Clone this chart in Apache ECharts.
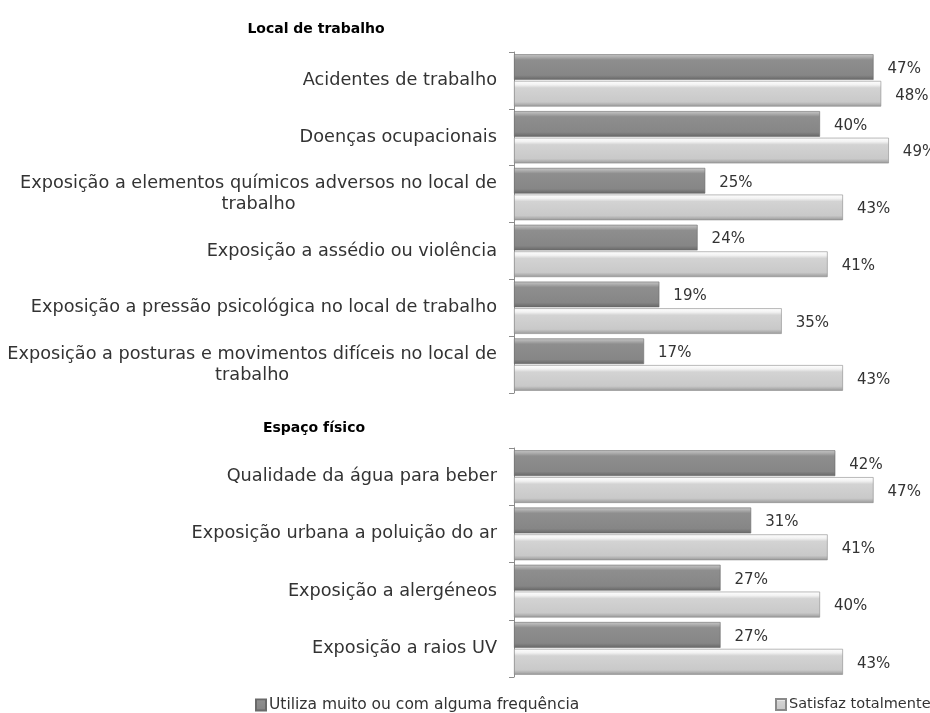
<!DOCTYPE html>
<html>
<head>
<meta charset="utf-8">
<script src="https://cdn.jsdelivr.net/npm/echarts@6/dist/echarts.min.js"></script>
<style>html,body{margin:0;padding:0;background:#fff}#c{width:930px;height:713px}</style>
</head>
<body>
<div id="c"></div>
<script>
const seriesNames = ['Utiliza muito ou com alguma frequência', 'Satisfaz totalmente'];
const sectionTitles = ['Local de trabalho', 'Espaço físico'];
const catsWork = [
  'Acidentes de trabalho',
  'Doenças ocupacionais',
  'Exposição a elementos químicos adversos no local de\ntrabalho',
  'Exposição a assédio ou violência',
  'Exposição a pressão psicológica no local de trabalho',
  'Exposição a posturas e movimentos difíceis no local de\ntrabalho'
];
const usoWork = [47, 40, 25, 24, 19, 17];
const satWork = [48, 49, 43, 41, 35, 43];
const catsSpace = [
  'Qualidade da água para beber',
  'Exposição urbana a poluição do ar',
  'Exposição a alergéneos',
  'Exposição a raios UV'
];
const usoSpace = [42, 31, 27, 27];
const satSpace = [47, 41, 40, 43];

const FONT = 'DejaVu Sans';
const TXT = '#333333';
const darkFill = new echarts.graphic.LinearGradient(0, 0, 0, 1, [
  {offset: 0, color: '#c8c8c8'}, {offset: 0.12, color: '#a9a9a9'},
  {offset: 0.22, color: '#8e8e8e'}, {offset: 0.82, color: '#868686'},
  {offset: 1, color: '#666666'}
]);
const lightFill = new echarts.graphic.LinearGradient(0, 0, 0, 1, [
  {offset: 0, color: '#ffffff'}, {offset: 0.15, color: '#f2f2f2'},
  {offset: 0.27, color: '#d3d3d3'}, {offset: 0.82, color: '#c9c9c9'},
  {offset: 1, color: '#999999'}
]);
const fills = [darkFill, lightFill];
const borders = ['#6a6a6a', '#8a8a8a'];

function yAxis(idx, cats) {
  return {
    type: 'category', gridIndex: idx, data: cats, inverse: true,
    axisLine: {show: true, lineStyle: {color: '#8c8c8c', width: 1}},
    axisTick: {show: true, length: 5, lineStyle: {color: '#8c8c8c'}},
    axisLabel: {
      margin: 17, color: TXT, fontFamily: FONT, fontSize: 17.7, lineHeight: 21,
      formatter: v => v.split('\n').map(s => '{c|' + s + '}').join('\n'),
      rich: {c: {align: 'center', fontFamily: FONT, fontSize: 17.7, lineHeight: 21, color: TXT}}
    }
  };
}
function xAxis(idx) {
  return {type: 'value', gridIndex: idx, min: 0, max: 50, show: false, splitLine: {show: false}};
}
function bar(idx, name, data, k) {
  return {
    type: 'bar', name: name, xAxisIndex: idx, yAxisIndex: idx, data: data,
    barCategoryGap: '8%', barGap: '4%',
    itemStyle: {color: fills[k], borderColor: borders[k], borderWidth: 0.6},
    label: {show: true, position: 'right', distance: 14, formatter: '{c}%',
      color: TXT, fontFamily: FONT, fontSize: 15, offset: [0, 2]},
    emphasis: {disabled: true}
  };
}

const chart = echarts.init(document.getElementById('c'));
chart.setOption({
  animation: false,
  title: [
    {text: sectionTitles[0], left: 311, top: 17, textAlign: 'center',
      textStyle: {fontFamily: FONT, fontSize: 14, fontWeight: 'bold', color: '#000'}},
    {text: sectionTitles[1], left: 309, top: 416, textAlign: 'center',
      textStyle: {fontFamily: FONT, fontSize: 14, fontWeight: 'bold', color: '#000'}}
  ],
  legend: [
    {data: [seriesNames[0]], left: 250, top: 692, itemWidth: 10, itemHeight: 11, itemGap: 4,
      icon: 'rect', textStyle: {fontFamily: FONT, fontSize: 15.5, color: TXT, padding: [0,0,0,-2]}},
    {data: [seriesNames[1]], left: 770, top: 692, itemWidth: 10, itemHeight: 11, itemGap: 4,
      icon: 'rect', textStyle: {fontFamily: FONT, fontSize: 14.5, color: TXT, padding: [0,0,0,-2]}}
  ],
  grid: [
    {left: 514, top: 52, width: 382.5, height: 341},
    {left: 514, top: 448, width: 382.5, height: 229}
  ],
  xAxis: [xAxis(0), xAxis(1)],
  yAxis: [yAxis(0, catsWork), yAxis(1, catsSpace)],
  series: [
    bar(0, seriesNames[0], usoWork, 0),
    bar(0, seriesNames[1], satWork, 1),
    bar(1, seriesNames[0], usoSpace, 0),
    bar(1, seriesNames[1], satSpace, 1)
  ]
});
</script>
</body>
</html>
